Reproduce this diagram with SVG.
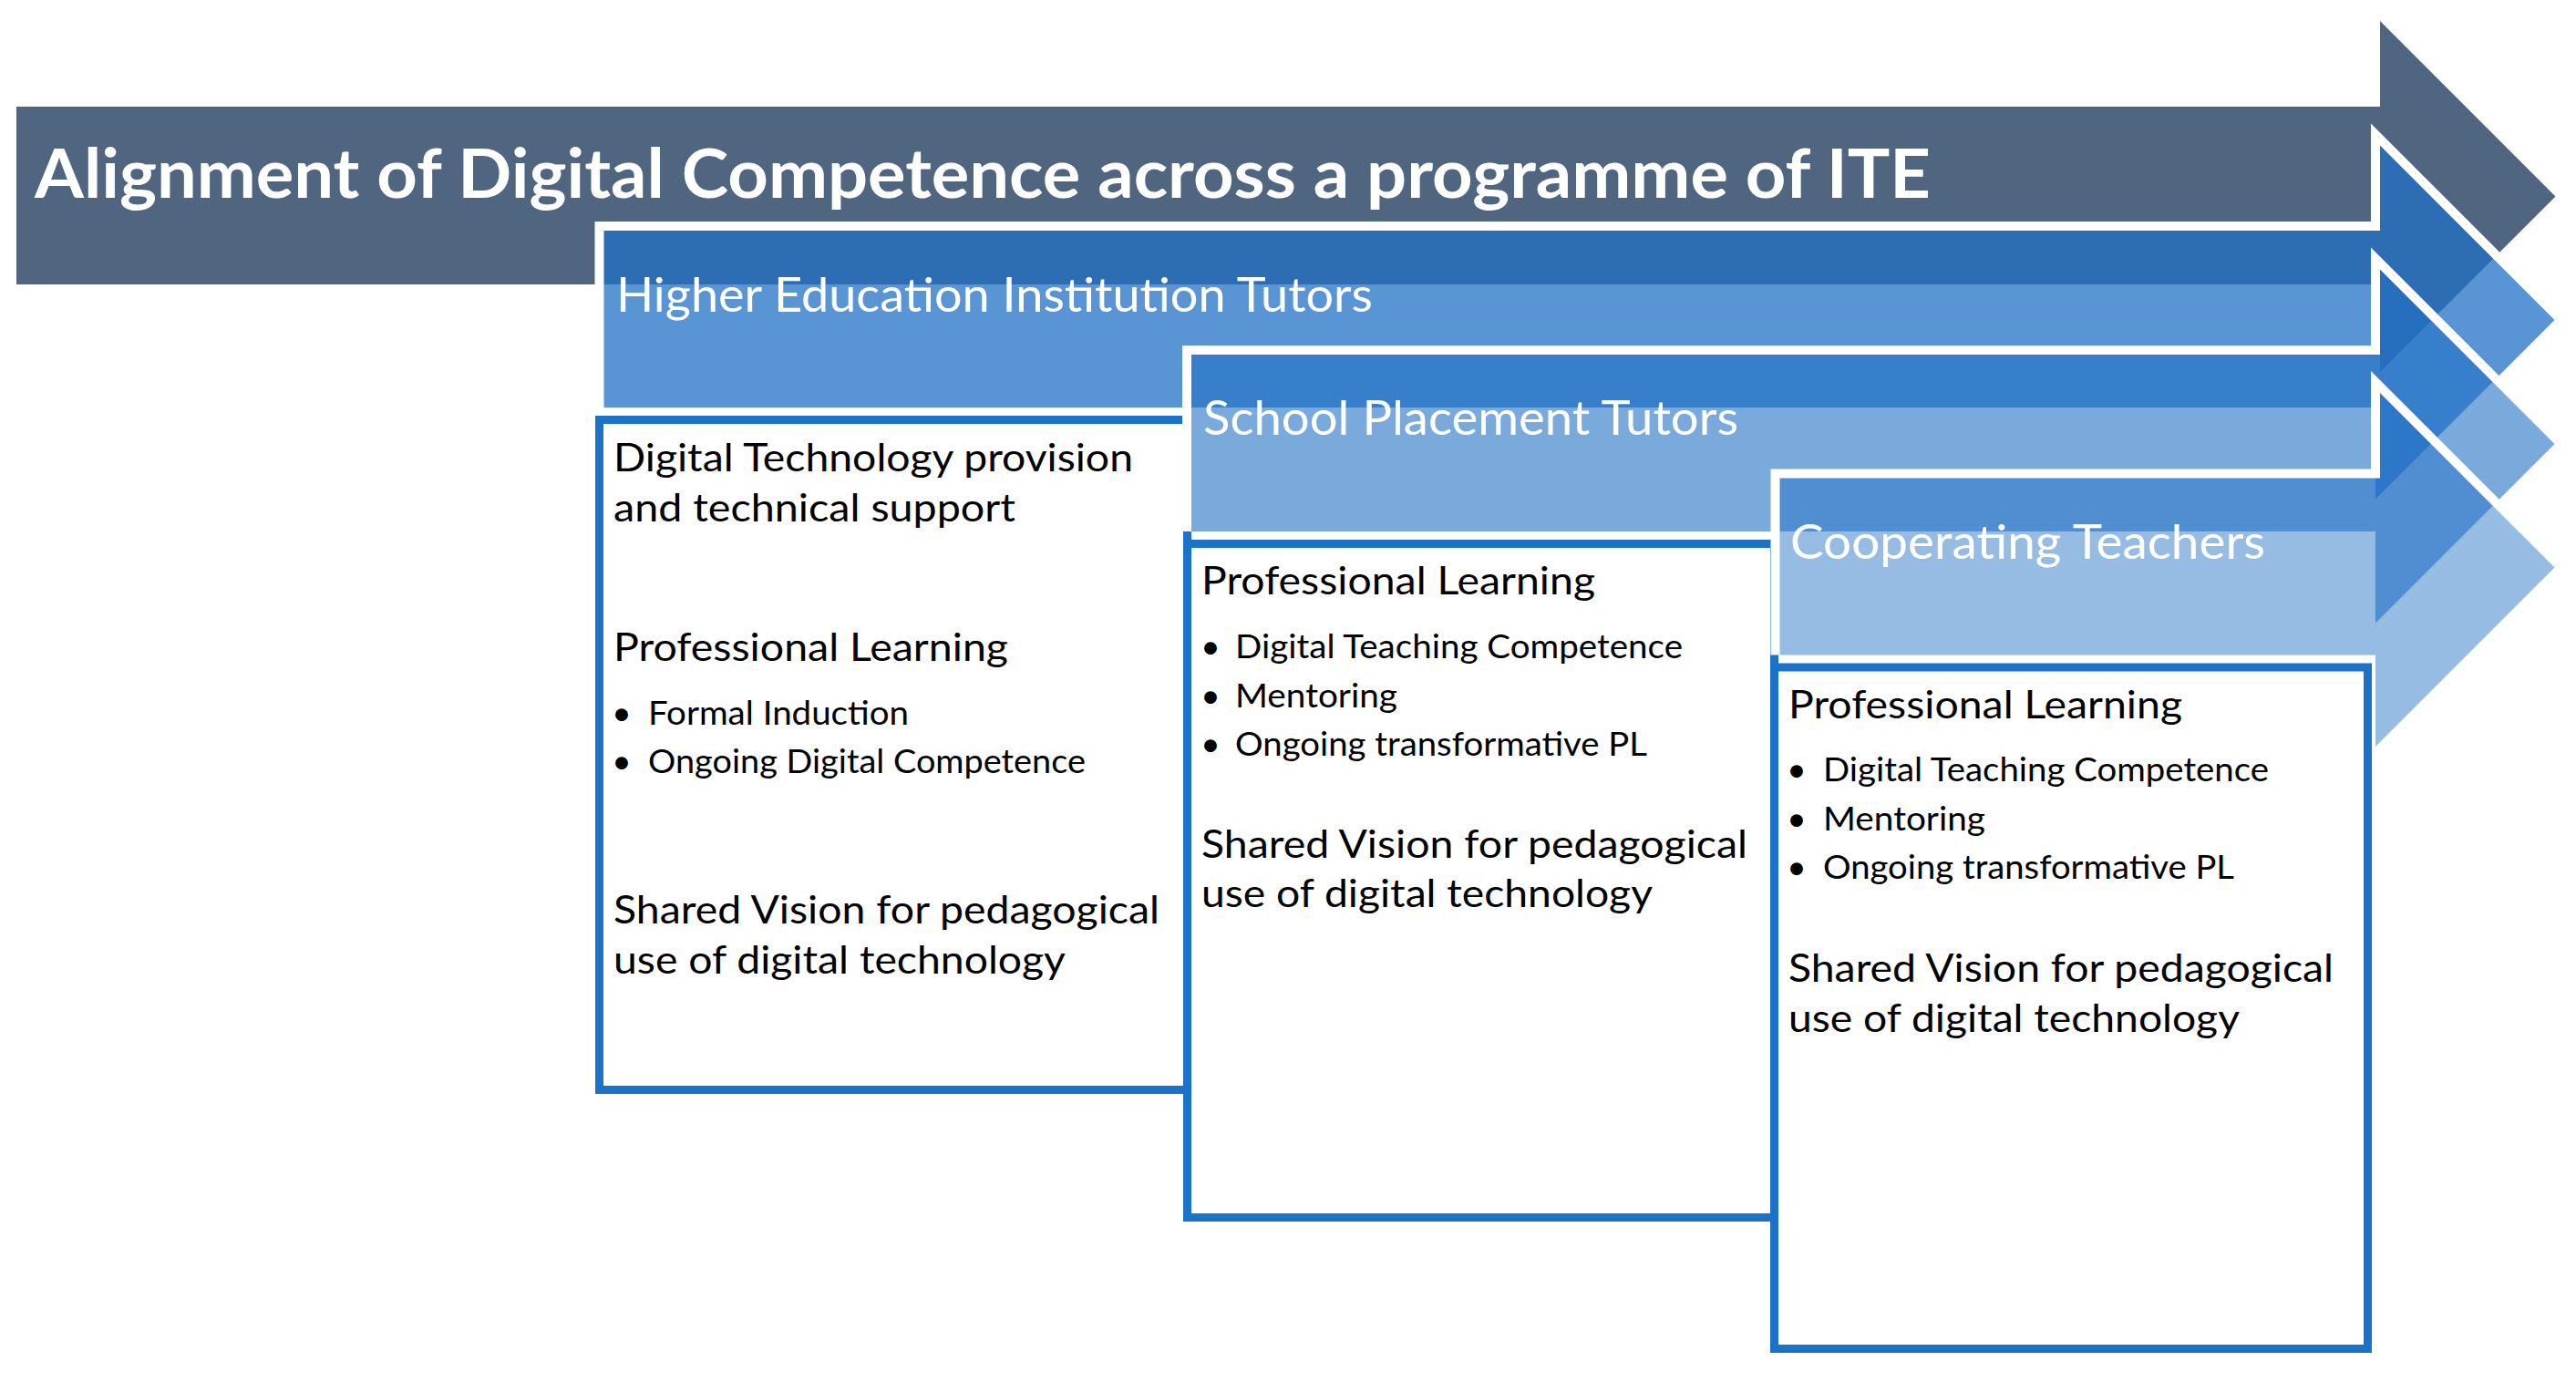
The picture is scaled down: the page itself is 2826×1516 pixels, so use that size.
<svg xmlns="http://www.w3.org/2000/svg" width="2826" height="1516" viewBox="0 0 2826 1516">
<style>
.box{fill:#fff;stroke:#1A73C8;stroke-width:9}
.band{fill:#2270C5}
.edge{fill:none;stroke:#fff;stroke-width:10;stroke-linejoin:miter;stroke-miterlimit:10}
.t{font-family:Lato,"Liberation Sans",sans-serif;fill:#000}
.h{font-size:43px}
.b{font-size:37px}
.dot{font-family:Lato,"Liberation Sans",sans-serif;font-size:37px;fill:#000;text-anchor:middle}
.lab{font-family:Lato,"Liberation Sans",sans-serif;font-weight:400;font-size:52px;fill:#fff}
.ttl{font-family:Lato,"Liberation Sans",sans-serif;font-weight:700;font-size:75px;fill:#fff}
</style>
<rect width="2826" height="1516" fill="#fff"/>

<g id="box-hei">
<rect class="box" x="657.5" y="460.5" width="645" height="735"/>
<text class="t h" x="673" y="517" textLength="570" lengthAdjust="spacingAndGlyphs">Digital Technology provision</text>
<text class="t h" x="673" y="572" textLength="441" lengthAdjust="spacingAndGlyphs">and technical support</text>
<text class="t h" x="673" y="725" textLength="433" lengthAdjust="spacingAndGlyphs">Professional Learning</text>
<text class="dot" x="682" y="795">•</text>
<text class="t b" x="711" y="795" textLength="286" lengthAdjust="spacingAndGlyphs">Formal Induction</text>
<text class="dot" x="682" y="848">•</text>
<text class="t b" x="711" y="848" textLength="480" lengthAdjust="spacingAndGlyphs">Ongoing Digital Competence</text>
<text class="t h" x="673" y="1013" textLength="599" lengthAdjust="spacingAndGlyphs">Shared Vision for pedagogical</text>
<text class="t h" x="673" y="1068" textLength="496" lengthAdjust="spacingAndGlyphs">use of digital technology</text>
</g>

<g id="box-spt">
<rect class="box" x="1302.5" y="596.5" width="644" height="739"/>
<text class="t h" x="1318" y="652" textLength="432" lengthAdjust="spacingAndGlyphs">Professional Learning</text>
<text class="dot" x="1328" y="722">•</text>
<text class="t b" x="1355" y="722" textLength="491" lengthAdjust="spacingAndGlyphs">Digital Teaching Competence</text>
<text class="dot" x="1328" y="776">•</text>
<text class="t b" x="1355" y="776" textLength="178" lengthAdjust="spacingAndGlyphs">Mentoring</text>
<text class="dot" x="1328" y="829">•</text>
<text class="t b" x="1355" y="829" textLength="452" lengthAdjust="spacingAndGlyphs">Ongoing transformative PL</text>
<text class="t h" x="1318" y="941" textLength="599" lengthAdjust="spacingAndGlyphs">Shared Vision for pedagogical</text>
<text class="t h" x="1318" y="995" textLength="495" lengthAdjust="spacingAndGlyphs">use of digital technology</text>
</g>

<g id="box-ct">
<rect class="box" x="1946.5" y="732" width="651" height="747.5"/>
<text class="t h" x="1962" y="788" textLength="432" lengthAdjust="spacingAndGlyphs">Professional Learning</text>
<text class="dot" x="1971" y="857">•</text>
<text class="t b" x="2000" y="857" textLength="489" lengthAdjust="spacingAndGlyphs">Digital Teaching Competence</text>
<text class="dot" x="1971" y="911">•</text>
<text class="t b" x="2000" y="911" textLength="178" lengthAdjust="spacingAndGlyphs">Mentoring</text>
<text class="dot" x="1971" y="964">•</text>
<text class="t b" x="2000" y="964" textLength="451" lengthAdjust="spacingAndGlyphs">Ongoing transformative PL</text>
<text class="t h" x="1962" y="1077" textLength="598" lengthAdjust="spacingAndGlyphs">Shared Vision for pedagogical</text>
<text class="t h" x="1962" y="1132" textLength="495" lengthAdjust="spacingAndGlyphs">use of digital technology</text>
</g>

<g id="title-arrow">
<path d="M18,117 H2611 V23 L2803.5,215.5 L2611,408 V312 H18 Z" fill="#506680"/>
<text class="ttl" x="38" y="217" textLength="2080" lengthAdjust="spacingAndGlyphs">Alignment of Digital Competence across a programme of ITE</text>
</g>

<g id="arrow-hei">
<path class="band" fill-opacity="0.75" d="M657.5,248 H2606 V147.5 L2806,347.5 L2606,547.5 V447 H657.5 Z"/>
<path class="edge" d="M657.5,447 V248 H2606 V147.5 L2806,347.5"/>
<text class="lab" x="676" y="342" textLength="830" lengthAdjust="spacingAndGlyphs">Higher Education Institution Tutors</text>
</g>

<g id="arrow-spt">
<path class="band" fill-opacity="0.6" d="M1302,384 H2606 V283.5 L2806,483.5 L2606,683.5 V583 H1302 Z"/>
<path class="edge" d="M1302,583 V384 H2606 V283.5 L2806,483.5"/>
<text class="lab" x="1320" y="477" textLength="587" lengthAdjust="spacingAndGlyphs">School Placement Tutors</text>
</g>

<g id="arrow-ct">
<path class="band" fill-opacity="0.47" d="M1947.5,519.5 H2606 V419 L2806,619 L2606,819 V718.5 H1947.5 Z"/>
<path class="edge" d="M1947.5,718.5 V519.5 H2606 V419 L2806,619"/>
<text class="lab" x="1964" y="613" textLength="521" lengthAdjust="spacingAndGlyphs">Cooperating Teachers</text>
</g>
</svg>
